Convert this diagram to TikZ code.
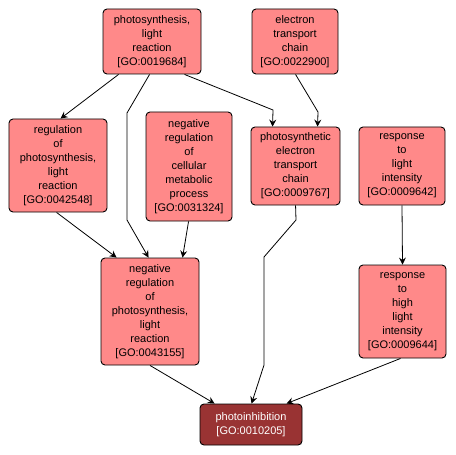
\documentclass[tikz,border=0pt]{standalone}
\usepackage{fontspec}
\setmainfont{Liberation Sans}
\usetikzlibrary{calc,arrows.meta}
\definecolor{boxfill}{RGB}{255,137,137}
\definecolor{darkfill}{RGB}{153,51,51}
\begin{document}
\begin{tikzpicture}[x=1bp,y=-1bp,
  gobox/.style={draw=black,line width=0.9bp,rounded corners=4bp,fill=boxfill,
    inner sep=0pt,align=center,font=\fontsize{11bp}{14bp}\selectfont},
  godark/.style={gobox,fill=darkfill,text=white},
  arr/.style={draw=black,line width=0.8bp,-{Stealth[length=7bp,width=7bp,inset=2.5bp]}}]
\useasboundingbox (0,0) rectangle (456,455);
\node[gobox,minimum width=98bp,minimum height=65bp] (A) at (152,41.5) {photosynthesis,\\light\\reaction\\{[GO:0019684]}};
\node[gobox,minimum width=86bp,minimum height=65bp] (B) at (295,41.5) {electron\\transport\\chain\\{[GO:0022900]}};
\node[gobox,minimum width=98bp,minimum height=93bp] (C) at (58,165.5) {regulation\\of\\photosynthesis,\\light\\reaction\\{[GO:0042548]}};
\node[gobox,minimum width=86bp,minimum height=109bp] (D) at (189,166.5) {negative\\regulation\\of\\cellular\\metabolic\\process\\{[GO:0031324]}};
\node[gobox,minimum width=89bp,minimum height=78bp] (E) at (295.5,166) {photosynthetic\\electron\\transport\\chain\\{[GO:0009767]}};
\node[gobox,minimum width=86bp,minimum height=78bp] (F) at (402,166) {response\\to\\light\\intensity\\{[GO:0009642]}};
\node[gobox,minimum width=98bp,minimum height=107bp] (G) at (150,311.5) {negative\\regulation\\of\\photosynthesis,\\light\\reaction\\{[GO:0043155]}};
\node[gobox,minimum width=87bp,minimum height=93bp] (H) at (402.5,311.5) {response\\to\\high\\light\\intensity\\{[GO:0009644]}};
\node[godark,minimum width=102bp,minimum height=41bp] (I) at (251,424.5) {photoinhibition\\{[GO:0010205]}};
\draw[arr] ($(A.south west)+(16,0)$) -- ($(C.north west)+(52,0)$);
\draw[arr] ($(A.south west)+(47,0)$) -- (127,113) -- (127,220) -- ($(G.north west)+(48,0)$);
\draw[arr] ($(A.south west)+(82,0)$) -- (273,110) -- ($(E.north west)+(22,0)$);
\draw[arr] ($(B.south west)+(44,0)$) -- (318,112) -- ($(E.north west)+(67,0)$);
\draw[arr] ($(C.south west)+(48,0)$) -- ($(G.north west)+(16,0)$);
\draw[arr] ($(D.south west)+(43,0)$) -- ($(G.north west)+(82,0)$);
\draw[arr] ($(E.south west)+(45,0)$) -- (296,220) -- (264,257) -- (264,365) -- ($(I.north west)+(52,0)$);
\draw[arr] (F.south) -- (H.north);
\draw[arr] (G.south) -- ($(I.north west)+(15,0)$);
\draw[arr] ($(H.south west)+(42,0)$) -- ($(I.north west)+(87,0)$);
\end{tikzpicture}
\end{document}
